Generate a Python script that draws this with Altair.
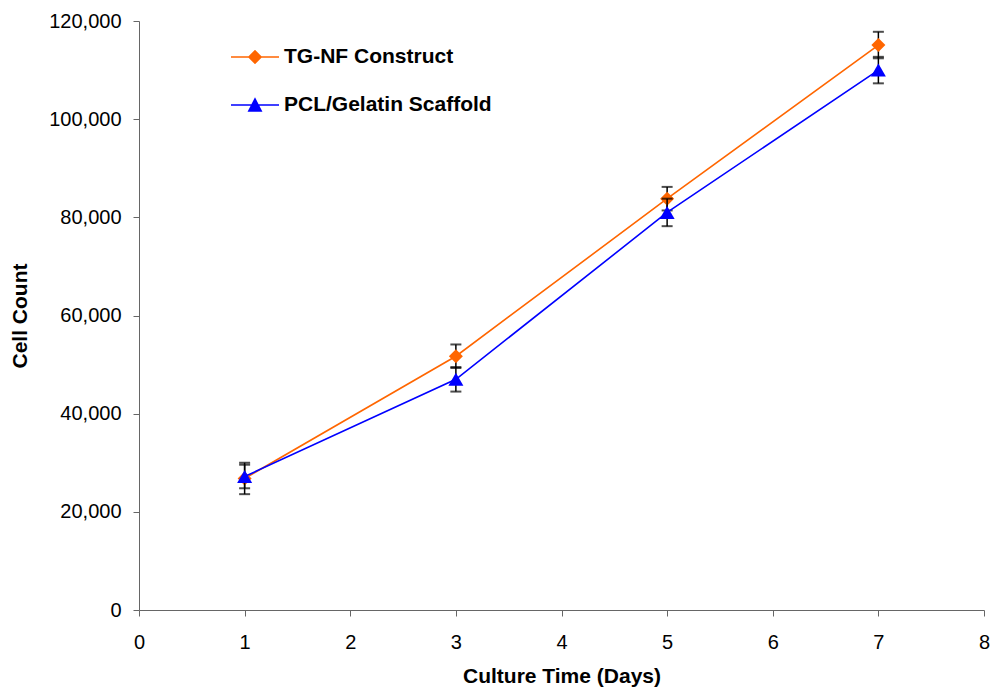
import altair as alt
import pandas as pd

# ---- data ----
series_names = ["TG-NF Construct", "PCL/Gelatin Scaffold"]
days = [1, 3, 5, 7]
tg_mean = [26800, 51700, 83800, 115100]
tg_err = [3200, 2400, 2400, 2700]
pcl_mean = [27200, 47000, 81000, 110000]
pcl_err = [2400, 2500, 2800, 2700]

colors = ["#FF6600", "#0000FF"]
marker_shapes = ["diamond", "triangle-up"]
marker_sizes = [196, 225]
legend_paths = [
    "M-1,-0.036L1,-0.036L1,0.036L-1,0.036Z M0,-0.3L0.3,0L0,0.3L-0.3,0Z",
    "M-1,-0.036L1,-0.036L1,0.036L-1,0.036Z M0,-0.32L0.31,0.28L-0.31,0.28Z",
]
x_ticks = [0, 1, 2, 3, 4, 5, 6, 7, 8]
y_ticks = [0, 20000, 40000, 60000, 80000, 100000, 120000]

FONT = "Liberation Sans"

rows = []
for name, means, errs in [(series_names[0], tg_mean, tg_err), (series_names[1], pcl_mean, pcl_err)]:
    for d, m, e in zip(days, means, errs):
        rows.append({"series": name, "day": d, "mean": m, "err": e})
df = pd.DataFrame(rows)
df["lo"] = df["mean"] - df["err"]
df["hi"] = df["mean"] + df["err"]

x_scale = alt.Scale(domain=[0, 8], nice=False, zero=False)
y_scale = alt.Scale(domain=[0, 120000], nice=False)

x_axis = alt.Axis(values=x_ticks, format="d", title="Culture Time (Days)", grid=False,
                  tickSize=6, labelPadding=16, titlePadding=13, labelFlush=False)
y_axis = alt.Axis(values=y_ticks, format=",d", title="Cell Count", grid=False,
                  tickSize=6, labelPadding=12, titlePadding=18, labelFlush=False)

layers = []
for i, name in enumerate(series_names):
    base = alt.Chart(df).transform_filter(alt.datum.series == name)
    line = base.mark_line(color=colors[i], strokeWidth=1.6).encode(
        x=alt.X("day:Q", scale=x_scale, axis=x_axis),
        y=alt.Y("mean:Q", scale=y_scale, axis=y_axis),
    )
    rule = base.mark_rule(color="black", strokeWidth=1.5).encode(
        x="day:Q", y="lo:Q", y2="hi:Q"
    )
    cap_lo = base.mark_tick(color="black", orient="horizontal", size=11, thickness=2).encode(
        x="day:Q", y="lo:Q"
    )
    cap_hi = base.mark_tick(color="black", orient="horizontal", size=11, thickness=2).encode(
        x="day:Q", y="hi:Q"
    )
    pts = base.mark_point(filled=True, opacity=1, strokeWidth=0, color=colors[i],
                          shape=marker_shapes[i], size=marker_sizes[i]).encode(
        x="day:Q", y="mean:Q"
    )
    layers += [line, rule, cap_lo, cap_hi, pts]

legend_kw = dict(
    title=None, orient="none", legendX=92, legendY=12, padding=0,
    labelFont=FONT, labelFontSize=21, labelFontWeight="bold", labelColor="black",
    labelOffset=5, labelLimit=500, rowPadding=14, symbolSize=2304, symbolStrokeWidth=0,
    symbolOpacity=1,
)
legend_layer = alt.Chart(df).transform_filter("datum.day < 0").mark_point(
    filled=True, opacity=1, size=2304, strokeWidth=0
).encode(
    color=alt.Color("series:N", scale=alt.Scale(domain=series_names, range=colors),
                    legend=alt.Legend(**legend_kw)),
    shape=alt.Shape("series:N", scale=alt.Scale(domain=series_names, range=legend_paths),
                    legend=alt.Legend(**legend_kw)),
)
layers.append(legend_layer)

chart = alt.layer(*layers).properties(
    width=845, height=589,
    autosize=alt.AutoSizeParams(type="none"),
    padding={"left": 131, "top": 13, "right": 7, "bottom": 78},
).configure_view(stroke=None).configure_axis(
    labelFont=FONT, labelFontSize=20, labelColor="black",
    titleFont=FONT, titleFontSize=21, titleFontWeight="bold", titleColor="black",
    domainColor="#666666", tickColor="#666666", domainWidth=1, tickWidth=1,
)

chart.save("out.html", embed_options={"renderer": "svg", "actions": False})
